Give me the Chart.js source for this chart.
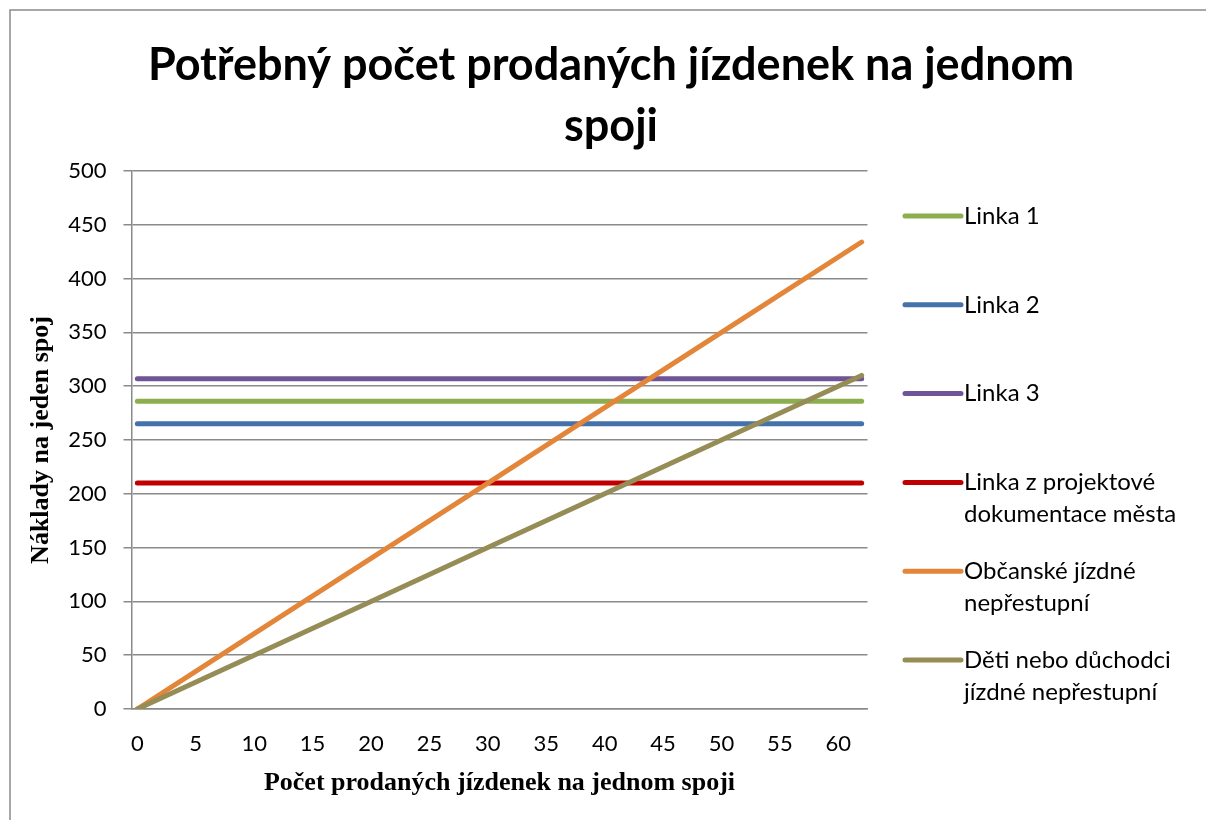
<!DOCTYPE html>
<html>
<head>
<meta charset="utf-8">
<script src="https://cdn.jsdelivr.net/npm/chart.js@4.4.1/dist/chart.umd.min.js"></script>
<style>
  html, body { margin: 0; padding: 0; background: #fff; }
</style>
</head>
<body>
<canvas id="grafica" width="1206" height="820"></canvas>
<script>
// Textos de la gráfica
const titulo = ['Potřebný počet prodaných jízdenek na jednom', 'spoji'];
const tituloX = 'Počet prodaných jízdenek na jednom spoji';
const tituloY = 'Náklady na jeden spoj';

// Ejes
const xTicks = [0, 5, 10, 15, 20, 25, 30, 35, 40, 45, 50, 55, 60];
const yTicks = [0, 50, 100, 150, 200, 250, 300, 350, 400, 450, 500];

// Series
const nombres = [
  'Linka 1',
  'Linka 2',
  'Linka 3',
  'Linka z projektové\ndokumentace města',
  'Občanské jízdné\nnepřestupní',
  'Děti nebo důchodci\njízdné nepřestupní'
];
const xPlano = [0, 62];
const linka1 = [286, 286];
const linka2 = [265, 265];
const linka3 = [307, 307];
const linkaProjekt = [210, 210];
const xRampa = [0, 10, 20, 30, 40, 50, 62];
const obcanske = [0, 70, 140, 210, 280, 350, 434];
const deti = [0, 50, 100, 150, 200, 250, 310];

const colores = ['#8cae4f', '#4672ac', '#6f5597', '#c00000', '#e3863a', '#958d55'];

const gris = '#8a8a8a';

const puntos = (xs, ys) => xs.map((x, i) => ({ x: x, y: ys[i] }));

const series = [
  puntos(xPlano, linka1),
  puntos(xPlano, linka2),
  puntos(xPlano, linka3),
  puntos(xPlano, linkaProjekt),
  puntos(xRampa, obcanske),
  puntos(xRampa, deti)
];

// Dibuja el marco, el título y la leyenda a mano
const textosExtra = {
  id: 'textosExtra',
  beforeDraw(chart) {
    const ctx = chart.ctx;
    ctx.save();
    ctx.strokeStyle = gris;
    ctx.lineWidth = 1.5;
    ctx.beginPath();
    ctx.moveTo(10, 820);
    ctx.lineTo(10, 10);
    ctx.lineTo(1206, 10);
    ctx.stroke();
    ctx.restore();
  },
  afterDraw(chart) {
    const ctx = chart.ctx;
    ctx.save();
    ctx.fillStyle = '#000';
    ctx.font = 'bold 45px Lato';
    ctx.textAlign = 'center';
    ctx.textBaseline = 'alphabetic';
    ctx.fillText(titulo[0], 611, 80);
    ctx.fillText(titulo[1], 611, 141);

    ctx.font = '24px Lato';
    ctx.textAlign = 'left';
    ctx.textBaseline = 'middle';
    chart.data.datasets.forEach((ds, i) => {
      const y = 216 + i * 88.8;
      ctx.strokeStyle = ds.borderColor;
      ctx.lineWidth = 5;
      ctx.lineCap = 'round';
      ctx.beginPath();
      ctx.moveTo(905, y);
      ctx.lineTo(961, y);
      ctx.stroke();
      ds.label.split('\n').forEach((linea, j) => {
        ctx.fillText(linea, 964, y + j * 32);
      });
    });
    ctx.restore();
  }
};

const ctx = document.getElementById('grafica');

new Chart(ctx, {
  type: 'line',
  data: {
    datasets: series.map((datos, i) => ({
      label: nombres[i],
      data: datos,
      borderColor: colores[i],
      backgroundColor: colores[i],
      borderWidth: 5,
      borderCapStyle: 'round',
      borderJoinStyle: 'round',
      pointRadius: 0,
      tension: 0,
      fill: false,
      order: series.length - i
    }))
  },
  options: {
    responsive: false,
    animation: false,
    devicePixelRatio: 1,
    layout: { padding: { top: 171, right: 338.5, left: 0, bottom: 0 } },
    plugins: {
      legend: { display: false },
      title: { display: false },
      tooltip: { enabled: false }
    },
    scales: {
      x: {
        type: 'linear',
        min: -0.5,
        max: 62.5,
        afterBuildTicks: scale => { scale.ticks = xTicks.map(v => ({ value: v })); },
        afterFit: scale => { scale.height = 111; },
        grid: { display: false, drawTicks: false },
        border: { display: true, color: gris, width: 1.5 },
        ticks: {
          color: '#000',
          font: { family: 'Lato', size: 22 },
          padding: 22,
          maxRotation: 0,
          autoSkip: false
        },
        title: {
          display: true,
          text: tituloX,
          color: '#000',
          font: { family: 'Liberation Serif', size: 26, weight: 'bold' },
          padding: { top: 0, bottom: 21 }
        }
      },
      y: {
        min: 0,
        max: 500,
        afterBuildTicks: scale => { scale.ticks = yTicks.map(v => ({ value: v })); },
        afterFit: scale => { scale.width = 131.5; },
        grid: { color: gris, lineWidth: 1.5, tickLength: 8, drawTicks: true },
        border: { display: true, color: gris, width: 1.5 },
        ticks: {
          color: '#000',
          font: { family: 'Lato', size: 22 },
          padding: 17
        },
        title: {
          display: true,
          text: tituloY,
          color: '#000',
          font: { family: 'Liberation Serif', size: 26, weight: 'bold' },
          padding: { top: 26, bottom: 0 }
        }
      }
    }
  },
  plugins: [textosExtra]
});
</script>
</body>
</html>
